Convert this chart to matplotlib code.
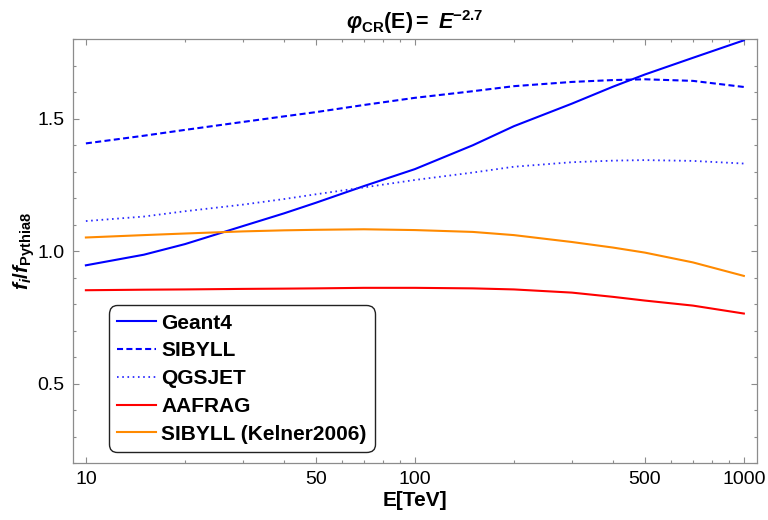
import matplotlib.pyplot as plt
from matplotlib.ticker import FixedLocator, NullFormatter, MultipleLocator

plt.rcParams.update(
    {
        "font.family": ["Liberation Sans", "DejaVu Sans"],
        "mathtext.fontset": "custom",
        "mathtext.rm": "Liberation Sans",
        "mathtext.it": "Liberation Sans:italic",
        "mathtext.bf": "Liberation Sans:bold",
        "mathtext.bfit": "Liberation Sans:bold:italic",
    }
)

# energies in TeV
energy = [10, 15, 20, 30, 40, 50, 70, 100, 150, 200, 300, 400, 500, 700, 1000]

geant4 = [0.946, 0.986, 1.026, 1.094, 1.142, 1.182, 1.245, 1.309, 1.399, 1.471,
          1.556, 1.620, 1.666, 1.729, 1.795]
sibyll = [1.406, 1.435, 1.457, 1.487, 1.508, 1.524, 1.551, 1.578, 1.603, 1.622,
          1.638, 1.645, 1.648, 1.642, 1.619]
qgsjet = [1.113, 1.130, 1.150, 1.175, 1.196, 1.214, 1.240, 1.268, 1.296, 1.318,
          1.335, 1.341, 1.343, 1.340, 1.330]
aafrag = [0.852, 0.854, 0.855, 0.857, 0.858, 0.859, 0.861, 0.861, 0.859, 0.855,
          0.843, 0.827, 0.813, 0.794, 0.764]
kelner = [1.051, 1.060, 1.066, 1.074, 1.078, 1.080, 1.082, 1.079, 1.072, 1.060,
          1.034, 1.013, 0.994, 0.957, 0.906]

labels = ["Geant4", "SIBYLL", "QGSJET", "AAFRAG", "SIBYLL (Kelner2006)"]

fig = plt.figure(figsize=(7.68, 5.2), dpi=100)
ax = fig.add_axes([0.0947, 0.1096, 0.8910, 0.8154])

lw = 1.5
ax.plot(energy, geant4, color="#0000ff", lw=lw, label=labels[0])
ax.plot(energy, sibyll, color="#0000ff", lw=lw, dashes=(2.9, 1.6), label=labels[1])
ax.plot(energy, qgsjet, color="#2a2aff", lw=1.3, dashes=(0.9, 2.0), label=labels[2])
ax.plot(energy, aafrag, color="#ff0000", lw=lw, label=labels[3])
ax.plot(energy, kelner, color="#ff8a00", lw=lw, label=labels[4])

ax.set_xscale("log")
ax.set_xlim(10 ** 0.96, 10 ** 3.04)
ax.set_ylim(0.2, 1.8)

ax.xaxis.set_major_locator(FixedLocator([10, 50, 100, 500, 1000]))
ax.xaxis.set_minor_locator(FixedLocator([20, 30, 40, 60, 70, 80, 90,
                                         200, 300, 400, 600, 700, 800, 900]))
ax.xaxis.set_minor_formatter(NullFormatter())
ax.set_xticklabels(["10", "50", "100", "500", "1000"])
ax.yaxis.set_major_locator(FixedLocator([0.5, 1.0, 1.5]))
ax.yaxis.set_minor_locator(MultipleLocator(0.1))
ax.set_yticklabels(["0.5", "1.0", "1.5"])

ax.tick_params(which="both", direction="in", top=True, right=True,
               color="#8c8c8c", labelsize=14, width=0.8)
ax.tick_params(which="major", length=4.5, pad=6)
ax.tick_params(which="minor", length=2.5)
for s in ax.spines.values():
    s.set_color("#8c8c8c")
    s.set_linewidth(0.9)

ax.set_xlabel("E[TeV]", fontsize=15, fontweight="bold", labelpad=2)
ax.set_ylabel(r"$\mathbfit{f}_{\mathbfit{i}}\mathbf{/}\mathbfit{f}_{\mathbf{Pythia8}}$",
              fontsize=15, labelpad=0)
ax.set_title(r"$\mathbfit{\varphi}_{\mathbf{CR}}\mathbf{(E)=}\ \mathbfit{E}^{\mathbf{-2.7}}$",
             fontsize=15.5, pad=7)

leg = ax.legend(loc="lower left", bbox_to_anchor=(0.053, 0.026), borderaxespad=0,
                prop={"weight": "bold", "size": 15}, handlelength=1.85,
                handletextpad=0.25, labelspacing=0.42, borderpad=0.4,
                fancybox=True, framealpha=1, edgecolor="#222222")
leg.get_frame().set_linewidth(1.0)
leg.get_frame().set_boxstyle("round", pad=0, rounding_size=0.4)

fig.savefig("out.png", dpi=100, facecolor="white")
